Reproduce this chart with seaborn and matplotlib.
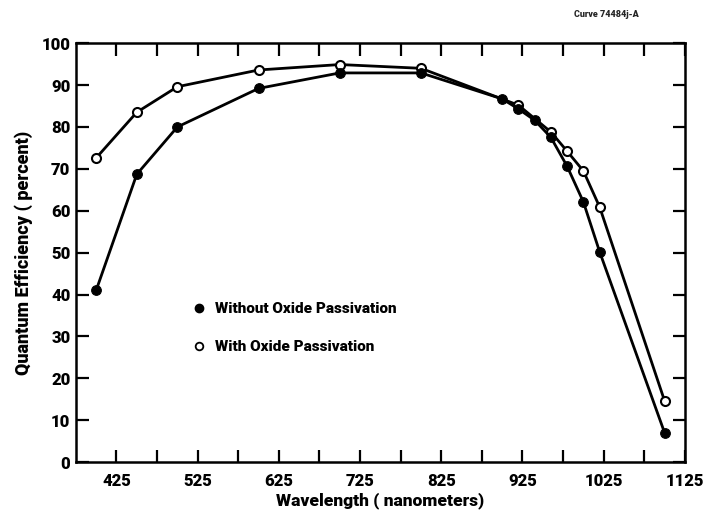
import matplotlib
matplotlib.use("Agg")
import matplotlib.pyplot as plt
from matplotlib.lines import Line2D
from matplotlib.ticker import MultipleLocator
import pandas as pd
import seaborn as sns

wl_without = [400, 450, 500, 600, 700, 800, 900, 920, 940, 960, 980, 1000, 1020, 1100]
qe_without = [41, 68.7, 80.0, 89.2, 92.9, 92.9, 86.7, 84.3, 81.6, 77.5, 70.6, 62.1, 50.2, 7.0]

wl_with = [400, 450, 500, 600, 700, 800, 920, 960, 980, 1000, 1020, 1100]
qe_with = [72.6, 83.5, 89.6, 93.6, 94.9, 94.0, 85.2, 78.8, 74.2, 69.5, 60.9, 14.6]

labels = ["Without Oxide Passivation", "With Oxide Passivation"]

sns.set_style("ticks")
plt.rcParams['font.family'] = ['Roboto', 'DejaVu Sans']
plt.rcParams['font.weight'] = 'heavy'

df_wo = pd.DataFrame({'wl': wl_without, 'qe': qe_without})
df_w = pd.DataFrame({'wl': wl_with, 'qe': qe_with})

fig = plt.figure(figsize=(7.09, 5.14), dpi=100)
ax = fig.add_axes([0.107, 0.101, 0.859, 0.815])

sns.lineplot(data=df_w, x='wl', y='qe', ax=ax, color='black', lw=2,
             marker='o', markersize=6.5, markerfacecolor='white',
             markeredgecolor='black', markeredgewidth=1.5)
sns.lineplot(data=df_wo, x='wl', y='qe', ax=ax, color='black', lw=2,
             marker='o', markersize=7, markerfacecolor='black',
             markeredgecolor='black')

ax.set_xlim(375, 1125)
ax.set_ylim(0, 100)
ax.set_xticks(range(425, 1126, 100))
ax.set_xticks(range(475, 1126, 100), minor=True)
ax.yaxis.set_major_locator(MultipleLocator(10))

ax.tick_params(axis='both', which='both', direction='in', width=1.6,
               top=True, right=True, labelsize=12, colors='black')
ax.tick_params(axis='x', which='both', length=9, pad=8)
ax.tick_params(axis='y', which='both', length=9, pad=4)
for s in ax.spines.values():
    s.set_linewidth(1.8)
    s.set_color('black')

ax.set_xlabel('Wavelength ( nanometers)', fontsize=12.5, fontweight='heavy',
              labelpad=2, color='black')
ax.set_ylabel('Quantum Efficiency ( percent)', fontsize=13, fontweight='heavy',
              labelpad=6, color='black')

handles = [
    Line2D([], [], ls='none', marker='o', markersize=6, color='black'),
    Line2D([], [], ls='none', marker='o', markersize=5.5, markerfacecolor='white',
           markeredgecolor='black', markeredgewidth=1.3),
]
leg = ax.legend(handles, labels, loc='upper left', bbox_to_anchor=(0.17, 0.415),
                frameon=False, fontsize=11, handlelength=0.8, handletextpad=0.6,
                labelspacing=1.6)
for t in leg.get_texts():
    t.set_fontweight('heavy')
    t.set_color('black')

fig.text(0.81, 0.972, 'Curve 74484j-A', fontsize=6.5, fontweight='heavy', va='center')

fig.savefig('out.png', dpi=100)
